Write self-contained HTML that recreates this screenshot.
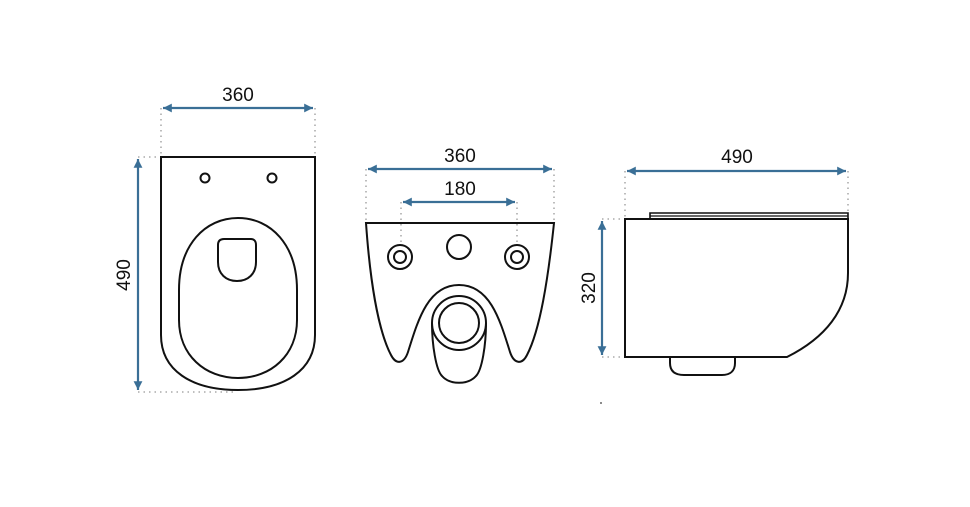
<!DOCTYPE html>
<html><head><meta charset="utf-8"><style>
html,body{margin:0;padding:0;background:#fff;}
svg{display:block;}
text{font-family:"Liberation Sans",Arial,sans-serif;font-size:19px;fill:#111;}
</style></head><body>
<svg width="970" height="507" viewBox="0 0 970 507" xmlns="http://www.w3.org/2000/svg">
<defs>
<marker id="a" viewBox="0 0 10 10" refX="10" refY="5" markerWidth="6" markerHeight="4" orient="auto-start-reverse" markerUnits="strokeWidth">
<path d="M0,0 L10,5 L0,10 Z" fill="#3a6f96"/></marker>
</defs>
<g fill="none" stroke="#999" stroke-width="1.3" stroke-dasharray="1.5,4">
<line x1="161" y1="108" x2="161" y2="157"/><line x1="315" y1="108" x2="315" y2="157"/>
<line x1="138" y1="157" x2="161" y2="157"/><line x1="138" y1="392" x2="235" y2="392"/>
<line x1="366" y1="169" x2="366" y2="223"/><line x1="554" y1="169" x2="554" y2="223"/>
<line x1="401" y1="202" x2="401" y2="245"/><line x1="517" y1="202" x2="517" y2="245"/>
<line x1="625" y1="171" x2="625" y2="219"/><line x1="848" y1="171" x2="848" y2="213"/>
<line x1="602" y1="219" x2="625" y2="219"/><line x1="602" y1="357" x2="625" y2="357"/>
</g>
<g stroke="#3a6f96" stroke-width="2.2" fill="none">
<line x1="163" y1="108" x2="313" y2="108" marker-start="url(#a)" marker-end="url(#a)"/>
<line x1="138" y1="159" x2="138" y2="390" marker-start="url(#a)" marker-end="url(#a)"/>
<line x1="368" y1="169" x2="552" y2="169" marker-start="url(#a)" marker-end="url(#a)"/>
<line x1="403" y1="202" x2="515" y2="202" marker-start="url(#a)" marker-end="url(#a)"/>
<line x1="627" y1="171" x2="846" y2="171" marker-start="url(#a)" marker-end="url(#a)"/>
<line x1="602" y1="221" x2="602" y2="355" marker-start="url(#a)" marker-end="url(#a)"/>
</g>
<text x="238" y="101" text-anchor="middle">360</text>
<text x="460" y="162" text-anchor="middle">360</text>
<text x="460" y="195" text-anchor="middle">180</text>
<text x="737" y="163" text-anchor="middle">490</text>
<text transform="translate(130,275) rotate(-90)" text-anchor="middle">490</text>
<text transform="translate(595,288) rotate(-90)" text-anchor="middle">320</text>
<g fill="none" stroke="#111" stroke-width="2">
<path d="M161,157 H315 V335 C315,370 285,390 238,390 C191,390 161,370 161,335 Z"/>
<circle cx="205" cy="178" r="4.5"/><circle cx="272" cy="178" r="4.5"/>
<path d="M179,290 C179,245 205,218 238,218 C271,218 297,245 297,290 V320 C297,355 271,378 238,378 C205,378 179,355 179,320 Z"/>
<path d="M218,245 C218,241 220,239 224,239 H251 C254,239 256,241 256,245 V262 C256,274 248,281 237,281 C226,281 218,274 218,262 Z"/>
<path d="M366,223 H554 C548,280 540,330 527,355 C522,365 514,364 510,352 C500,320 490,285 459,285 C428,285 418,320 408,352 C404,364 396,365 391,355 C378,330 370,280 366,223 Z"/>
<circle cx="400" cy="257" r="12"/><circle cx="400" cy="257" r="6"/>
<circle cx="517" cy="257" r="12"/><circle cx="517" cy="257" r="6"/>
<circle cx="459" cy="247" r="12"/>
<path d="M432,323 C432,345 436,370 442,376 C450,385 468,385 476,376 C482,370 486,345 486,323"/>
<circle cx="459" cy="323" r="27"/><circle cx="459" cy="323" r="20"/>
<path d="M625,219 H848 V273 C848,310 825,338 787,357 H625 Z"/>
<path d="M650,219 V213 H848 V219" stroke-width="1.6"/>
<line x1="650" y1="216" x2="848" y2="216" stroke-width="1.2"/>
<path d="M670,358 V363 C670,372 676,375 684,375 H722 C730,375 735,371 735,363 V358"/>
</g>
<circle cx="601" cy="403" r="1" fill="#666"/>
</svg>
</body></html>
